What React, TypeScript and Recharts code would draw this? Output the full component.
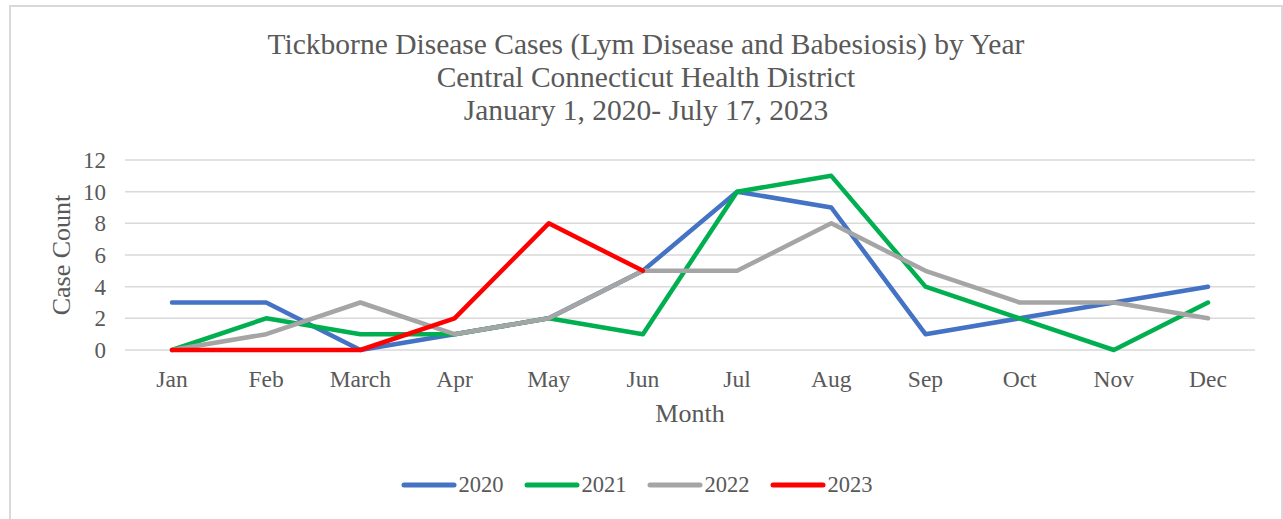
import { LineChart, Line, XAxis, YAxis, CartesianGrid, Legend } from 'recharts'

const months = ['Jan', 'Feb', 'March', 'Apr', 'May', 'Jun', 'Jul', 'Aug', 'Sep', 'Oct', 'Nov', 'Dec']
const cases2020 = [3, 3, 0, 1, 2, 5, 10, 9, 1, 2, 3, 4]
const cases2021 = [0, 2, 1, 1, 2, 1, 10, 11, 4, 2, 0, 3]
const cases2022 = [0, 1, 3, 1, 2, 5, 5, 8, 5, 3, 3, 2]
const cases2023 = [0, 0, 0, 2, 8, 5, null, null, null, null, null, null]
const yTicks = [0, 2, 4, 6, 8, 10, 12]

const titleLines = [
  'Tickborne Disease Cases (Lym Disease and Babesiosis) by Year',
  'Central Connecticut Health District',
  'January 1, 2020- July 17, 2023',
]

const FONT = '"Liberation Serif", "Times New Roman", serif'
const TEXT = '#595959'
const GRID = '#D9D9D9'

const series = [
  { key: 'y2020', name: '2020', color: '#4472C4' },
  { key: 'y2021', name: '2021', color: '#00B050' },
  { key: 'y2022', name: '2022', color: '#A5A5A5' },
  { key: 'y2023', name: '2023', color: '#FF0000' },
]

const data = months.map((m, i) => ({
  month: m,
  y2020: cases2020[i],
  y2021: cases2021[i],
  y2022: cases2022[i],
  y2023: cases2023[i],
}))

function LegendContent(props: any) {
  const items = props.payload || []
  return (
    <div style={{ display: 'flex', justifyContent: 'center', paddingRight: 10, fontFamily: FONT }}>
      {items.map((it: any, i: number) => (
        <div key={it.value} style={{ display: 'flex', alignItems: 'center', marginLeft: i === 0 ? 0 : 20 }}>
          <svg width={56} height={8} style={{ display: 'block' }}>
            <line x1={3} y1={4} x2={53} y2={4} stroke={it.color} strokeWidth={5} strokeLinecap="round" />
          </svg>
          <span style={{ fontSize: 22.5, color: TEXT, marginLeft: 2, lineHeight: '30px' }}>{it.value}</span>
        </div>
      ))}
    </div>
  )
}

export default function App() {
  return (
    <div style={{ position: 'absolute', left: 0, top: 0, width: 1283, height: 519, overflow: 'hidden', background: '#fff' }}>
      <div
        style={{
          position: 'absolute',
          left: 9,
          top: 5,
          width: 1270,
          height: 540,
          border: `2px solid ${GRID}`,
        }}
      />
      <div
        style={{
          position: 'absolute',
          left: 9,
          width: 1274,
          top: 28,
          textAlign: 'center',
          fontFamily: FONT,
          fontSize: 29.5,
          lineHeight: '33px',
          color: TEXT,
        }}
      >
        {titleLines.map(t => (
          <div key={t}>{t}</div>
        ))}
      </div>
      <div style={{ position: 'absolute', left: 0, top: 0 }}>
        <LineChart width={1283} height={519} data={data} margin={{ top: 160, right: 28, left: 0, bottom: 89 }}>
          <CartesianGrid vertical={false} stroke={GRID} strokeWidth={1.5} />
          <XAxis
            dataKey="month"
            height={80}
            padding={{ left: 47, right: 47 }}
            interval={0}
            tickLine={false}
            axisLine={false}
            tickMargin={14}
            tick={{ fill: TEXT, fontSize: 23.5, fontFamily: FONT }}
            label={{ value: 'Month', position: 'insideBottom', offset: 8, fill: TEXT, fontSize: 26, fontFamily: FONT }}
          />
          <YAxis
            width={125}
            domain={[0, 12]}
            ticks={yTicks}
            interval={0}
            tickLine={false}
            axisLine={false}
            tickMargin={13}
            tick={{ fill: TEXT, fontSize: 23, fontFamily: FONT }}
            label={{
              value: 'Case Count',
              angle: -90,
              position: 'insideLeft',
              offset: 61,
              fill: TEXT,
              fontSize: 26,
              fontFamily: FONT,
              style: { textAnchor: 'middle' },
            }}
          />
          <Legend
            layout="horizontal"
            verticalAlign="middle"
            align="center"
            wrapperStyle={{ top: 470, left: 0, width: 1283 }}
            content={<LegendContent />}
          />
          {series.map(s => (
            <Line
              key={s.key}
              type="linear"
              dataKey={s.key}
              name={s.name}
              stroke={s.color}
              strokeWidth={4.5}
              strokeLinejoin="round"
              strokeLinecap="round"
              dot={false}
              activeDot={false}
              isAnimationActive={false}
            />
          ))}
        </LineChart>
      </div>
    </div>
  )
}
